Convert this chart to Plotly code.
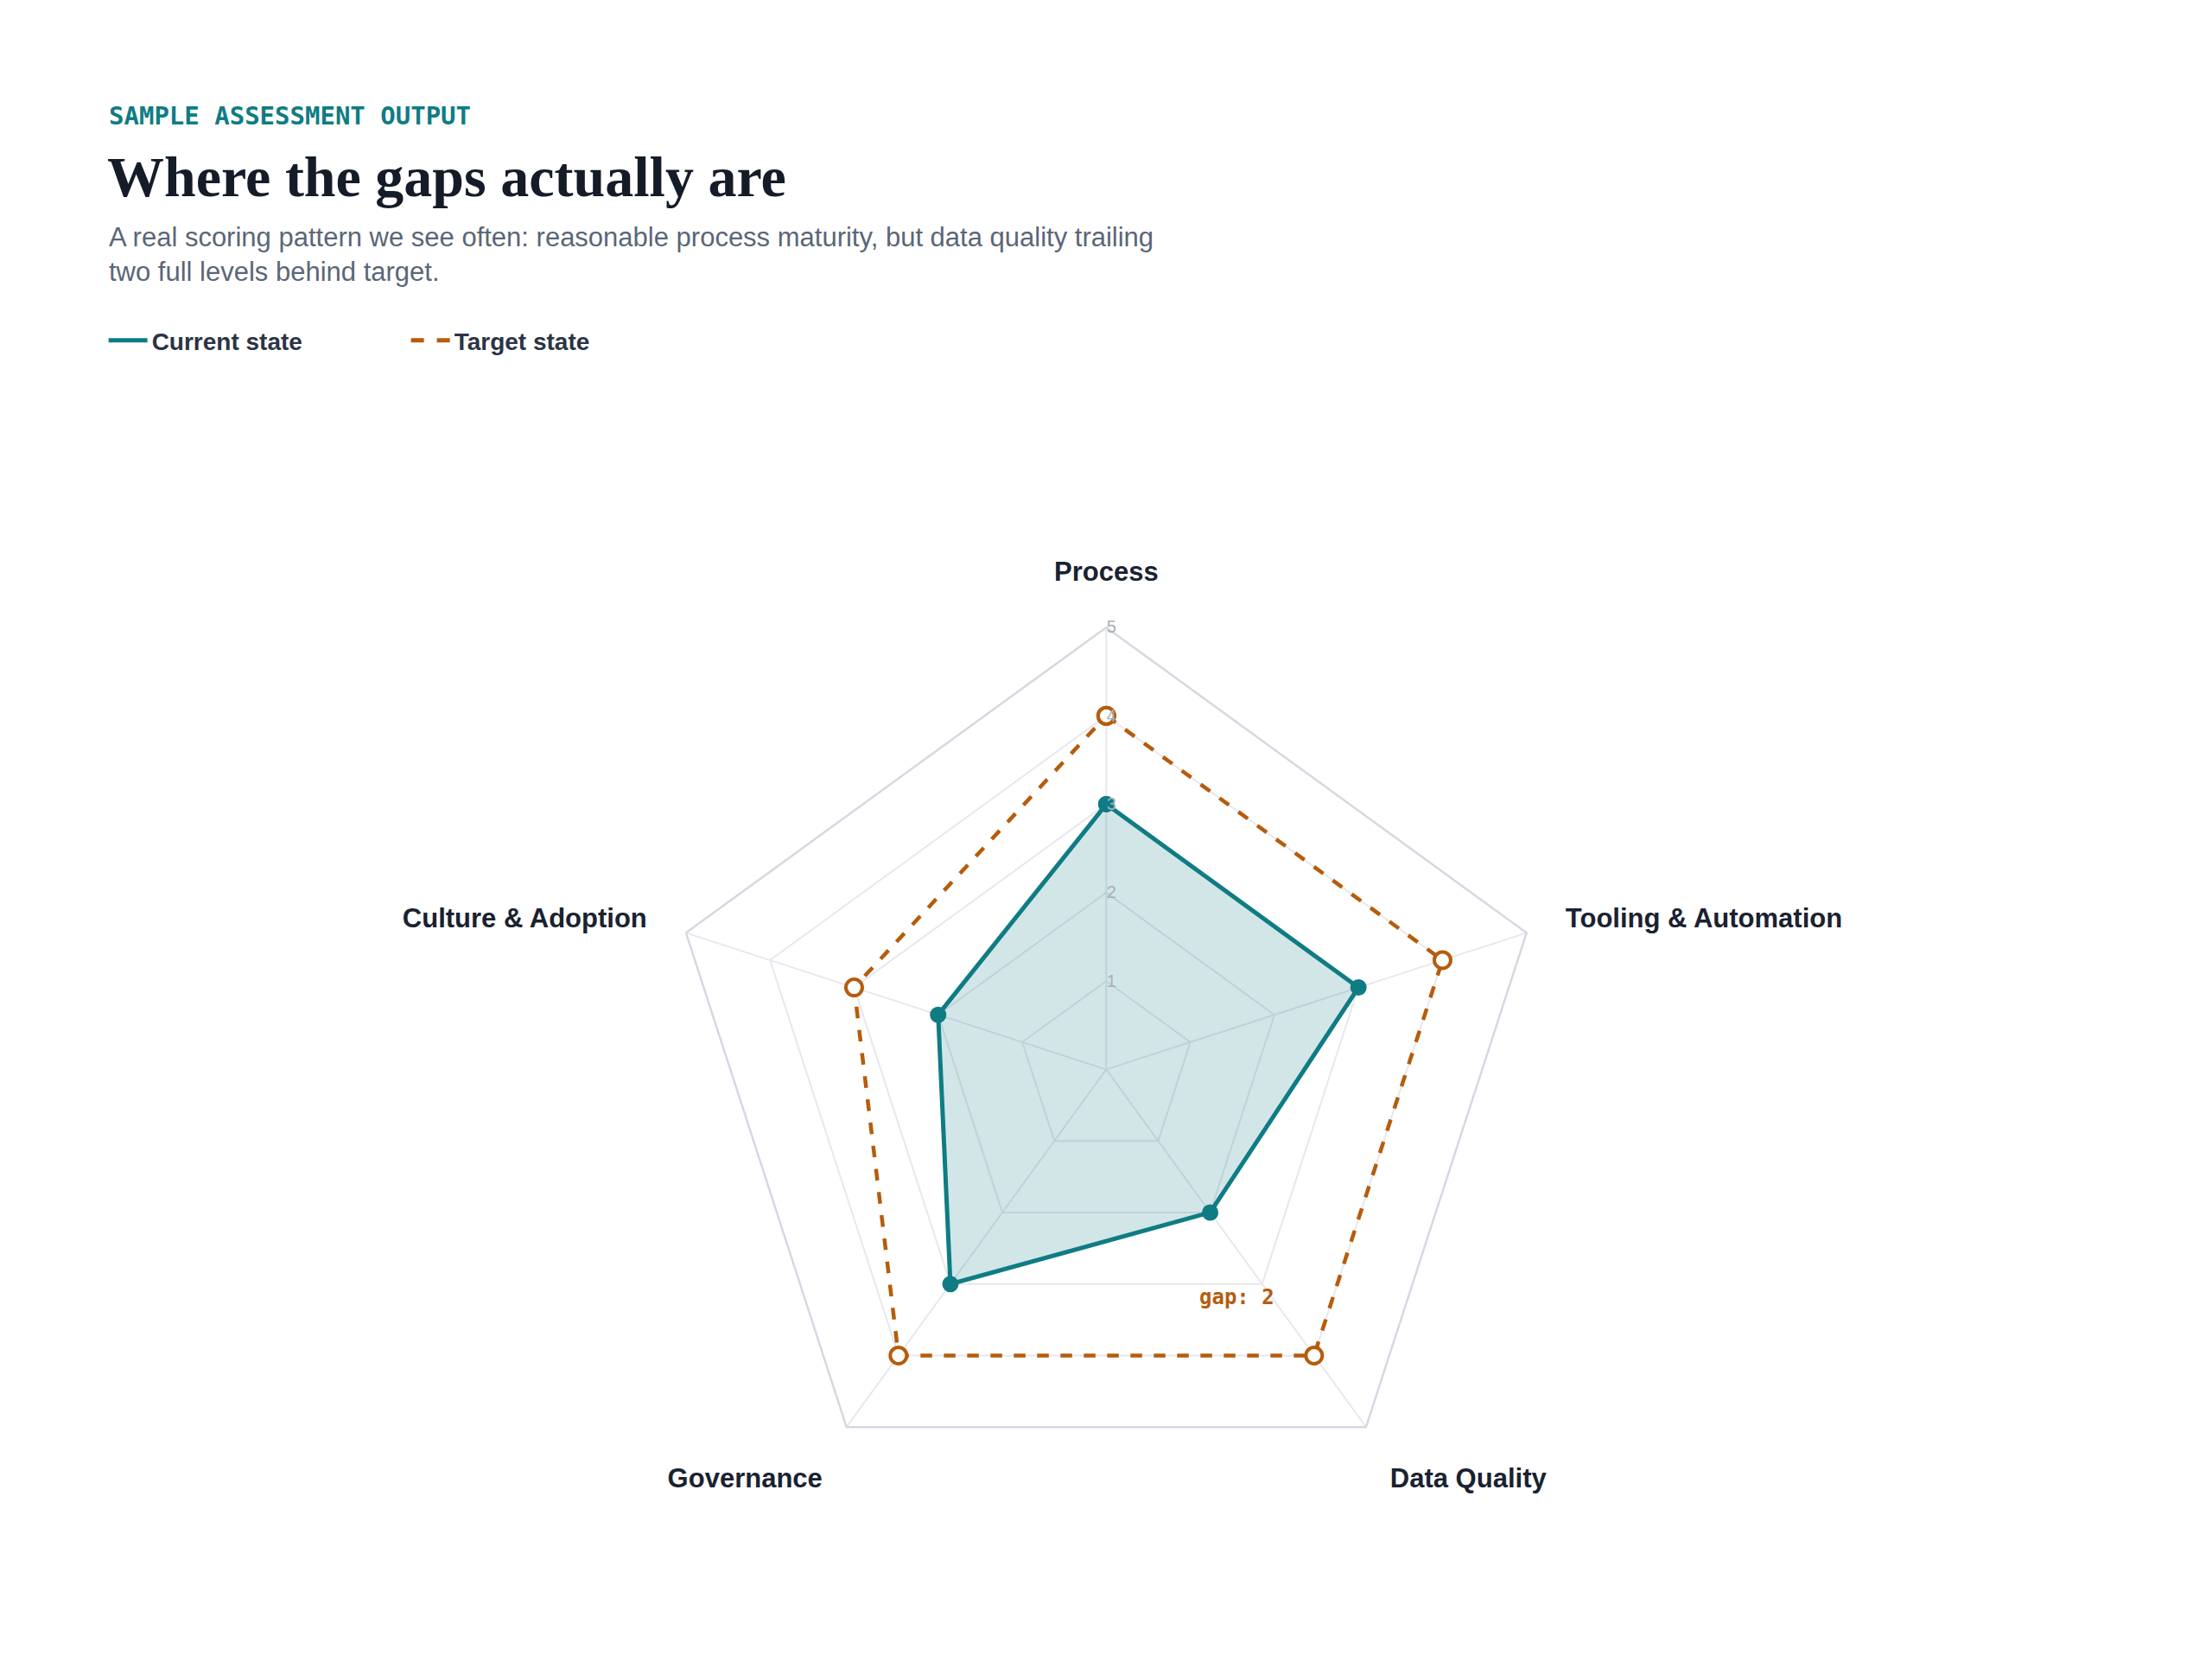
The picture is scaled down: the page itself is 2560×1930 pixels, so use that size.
import plotly.graph_objects as go

categories = ["Process", "Tooling & Automation", "Data Quality", "Governance", "Culture & Adoption"]
current = [3, 3, 2, 3, 2]
target = [4, 4, 4, 4, 3]
tick_vals = [1, 2, 3, 4, 5]

TEAL = "#0f7c84"
ORANGE = "#b65c0c"

cats_c = categories + categories[:1]
fig = go.Figure()
fig.add_trace(go.Scatterpolar(
    r=current + current[:1], theta=cats_c, name="Current state", mode="lines+markers",
    fill="toself", fillcolor="rgba(15,124,132,0.19)", showlegend=False,
    line=dict(color=TEAL, width=5), marker=dict(size=19, color=TEAL)))
fig.add_trace(go.Scatterpolar(
    r=target + target[:1], theta=cats_c, name="Target state", mode="lines+markers", showlegend=False,
    line=dict(color=ORANGE, width=4.5, dash="dash"),
    marker=dict(size=19, color="white", line=dict(color=ORANGE, width=4))))
# legend entries (line only)
fig.add_trace(go.Scatterpolar(r=[None], theta=[categories[0]], name="Current state", mode="lines",
                              line=dict(color=TEAL, width=5)))
fig.add_trace(go.Scatterpolar(r=[None], theta=[categories[0]], name="Target state", mode="lines",
                              line=dict(color=ORANGE, width=5, dash="dash")))

fig.update_layout(
    width=2560, height=1930, paper_bgcolor="white", plot_bgcolor="white",
    margin=dict(l=0, r=0, t=0, b=0),
    font=dict(family="Liberation Sans"),
    polar=dict(
        domain=dict(x=[0.297, 0.697], y=[0.098, 0.628]),
        gridshape="linear", bgcolor="white",
        radialaxis=dict(range=[0, 5], tickvals=tick_vals, angle=90, tickangle=90,
                        showline=False, gridcolor="#e6e8ee", gridwidth=2,
                        tickfont=dict(size=20, color="#a8adb8"), ticks=""),
        angularaxis=dict(rotation=90, direction="clockwise", gridcolor="#e6e8ee", gridwidth=2,
                         linecolor="#d5d8e2", linewidth=2.5, ticks="outside", ticklen=40,
                         tickcolor="rgba(0,0,0,0)",
                         tickfont=dict(size=31, color="#1a2230", family="Liberation Sans", weight="bold"),
                         categoryarray=categories),
    ),
    legend=dict(orientation="h", x=0.044, y=0.8, xanchor="left", yanchor="middle",
                font=dict(size=28, color="#2a3444", weight="bold"), itemwidth=45, entrywidth=290,
                entrywidthmode="pixels"),
    annotations=[
        dict(text="<b>SAMPLE ASSESSMENT OUTPUT</b>", x=116/2560, y=1-126/1930, xref="paper", yref="paper",
             xanchor="left", yanchor="middle", showarrow=False,
             font=dict(family="DejaVu Sans Mono", size=29, color=TEAL)),
        dict(text="<b>Where the gaps actually are</b>", x=114/2560, y=1-197/1930, xref="paper", yref="paper",
             xanchor="left", yanchor="middle", showarrow=False,
             font=dict(family="Liberation Serif", size=66, color="#141c28")),
        dict(text="A real scoring pattern we see often: reasonable process maturity, but data quality trailing<br>two full levels behind target.",
             x=116/2560, y=1-286/1930, xref="paper", yref="paper", align="left",
             xanchor="left", yanchor="middle", showarrow=False,
             font=dict(family="Liberation Sans", size=31, color="#5a6678"),
             ),
        dict(text="<b>gap: 2</b>", x=1423/2560, y=1-1493/1930, xref="paper", yref="paper",
             xanchor="center", yanchor="middle", showarrow=False,
             font=dict(family="DejaVu Sans Mono", size=24, color=ORANGE)),
    ],
)
fig.write_html("out.html")
